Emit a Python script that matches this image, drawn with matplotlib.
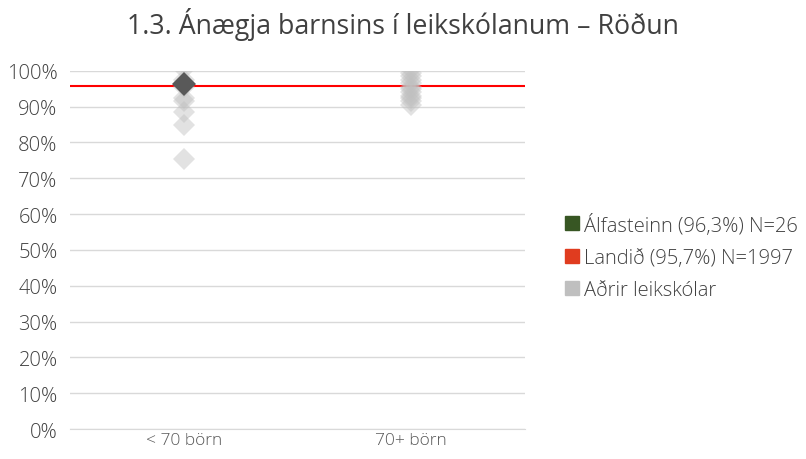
import numpy as np
import matplotlib.pyplot as plt
from matplotlib.lines import Line2D

plt.rcParams['font.family'] = ['Open Sans', 'DejaVu Sans']
plt.rcParams['font.weight'] = 'light'

# Données
categories = ["< 70 börn", "70+ börn"]
adrir_lt70 = [100.5, 97.5, 95.5, 92.5, 91.5, 88.5, 85.0, 75.5]
adrir_70p = [100.5, 99.5, 98.5, 97.5, 96.5, 95.5, 95.0, 94.0, 93.0, 92.5, 91.5, 90.5]
alfasteinn = 96.3      # < 70 börn
landid = 95.7
legend_labels = ["Álfasteinn (96,3%) N=26", "Landið (95,7%) N=1997", "Aðrir leikskólar"]
yticks = np.arange(0, 101, 10)

fig = plt.figure(figsize=(8.06, 4.6), dpi=100)
ax = fig.add_axes([0.087, 0.065, 0.564, 0.779])

x = np.arange(len(categories))
ax.plot(np.full(len(adrir_lt70), x[0]), adrir_lt70, "D", color="#c0c0c0",
        alpha=0.45, ms=11, mew=0, zorder=3)
ax.plot(np.full(len(adrir_70p), x[1]), adrir_70p, "D", color="#c0c0c0",
        alpha=0.45, ms=11, mew=0, zorder=3)
ax.plot([x[0]], [alfasteinn], "D", color="#595959", ms=12.5, mew=0, zorder=4)
ax.axhline(landid, color="#ff0000", lw=1.5, zorder=2)

ax.set_xlim(-0.5, 1.5)
ax.set_ylim(0, 100)
ax.set_yticks(yticks)
ax.set_yticklabels([f"{v}%" for v in yticks], fontsize=14.5, color="#404040")
ax.set_xticks(x)
ax.set_xticklabels(categories, fontsize=12.5, color="#595959")
ax.grid(axis="y", color="#d9d9d9", lw=1)
ax.set_axisbelow(True)
for s in ["top", "right", "left"]:
    ax.spines[s].set_visible(False)
ax.spines["bottom"].set_color("#d9d9d9")
ax.tick_params(axis="y", length=0, pad=9)
ax.tick_params(axis="x", length=0, pad=2)

fig.suptitle("1.3. Ánægja barnsins í leikskólanum – Röðun", fontsize=19.3,
             color="#404040", y=0.982)

handles = [
    Line2D([], [], marker="s", ls="", color="#375623", ms=10),
    Line2D([], [], marker="s", ls="", color="#e03c1f", ms=10),
    Line2D([], [], marker="s", ls="", color="#bfbfbf", ms=10),
]
fig.legend(handles, legend_labels, loc="center left", bbox_to_anchor=(0.675, 0.44),
           frameon=False, fontsize=14.5, labelcolor="#404040",
           handletextpad=0.1, labelspacing=0.6, handlelength=1.0)

fig.savefig("out.png", dpi=100)
